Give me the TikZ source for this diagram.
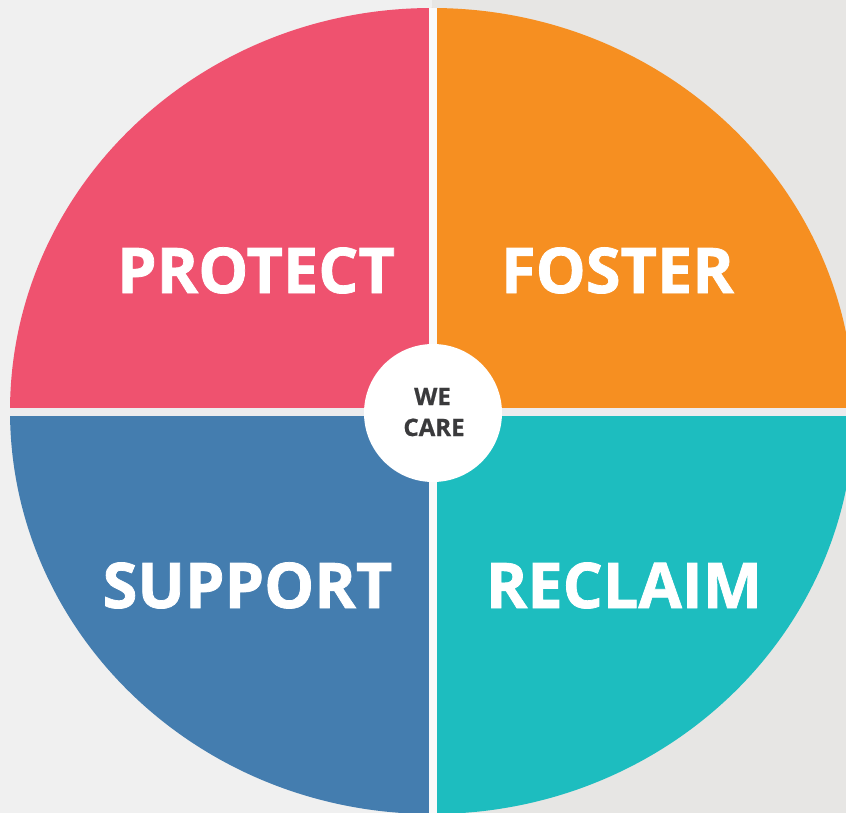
\documentclass[tikz,border=0pt]{standalone}
\usepackage{fontspec}
\setmainfont{Open Sans}
\newfontfamily\labelfont[FakeBold=1.2]{Open Sans Bold}
\newfontfamily\hubfont[FakeBold=0.8]{Open Sans Bold}
\definecolor{bgleft}{HTML}{F0F0F0}
\definecolor{bgright}{HTML}{E7E6E4}
\definecolor{protectc}{HTML}{EF526F}
\definecolor{fosterc}{HTML}{F68F21}
\definecolor{supportc}{HTML}{447DAF}
\definecolor{reclaimc}{HTML}{1DBDBF}
\definecolor{hgap}{HTML}{ECECEE}
\definecolor{vgap}{HTML}{FAFAFA}
\definecolor{careink}{HTML}{3A3A3C}
\begin{document}
\begin{tikzpicture}[x=1pt,y=-1pt,
  bigword/.style={anchor=base,inner sep=0pt,text=white,font=\labelfont\fontsize{63}{63}\selectfont},
  smallword/.style={anchor=base,inner sep=0pt,text=careink,font=\hubfont\fontsize{24}{24}\selectfont}]
  % canvas and background
  \useasboundingbox (0,0) rectangle (846,813);
  \fill[bgleft] (0,0) rectangle (432,813);
  \fill[bgright] (432,0) rectangle (846,813);
  % quadrants of the wheel
  \begin{scope}
    \clip (432,411) ellipse [x radius=422, y radius=403];
    \fill[protectc] (0,0) rectangle (432,411);
    \fill[fosterc] (432,0) rectangle (860,411);
    \fill[supportc] (0,411) rectangle (432,830);
    \fill[reclaimc] (432,411) rectangle (860,830);
    \fill[hgap] (0,407.5) rectangle (860,415.5);
    \fill[vgap] (428.5,0) rectangle (436.5,830);
  \end{scope}
  % hub
  \node[circle,fill=white,minimum size=138pt,inner sep=0pt] (hub) at (433,413) {};
  \node[smallword] (we) at (432.5,405) {WE};
  \node[smallword] (care) at (434,436) {CARE};
  % quadrant labels
  \node[bigword] (protect) at (256,293) {PROTECT};
  \node[bigword] (foster) at (617.5,293) {FOSTER};
  \node[bigword] (support) at (247.5,608) {SUPPORT};
  \node[bigword] (reclaim) at (624,608) {RECLAIM};
\end{tikzpicture}
\end{document}
